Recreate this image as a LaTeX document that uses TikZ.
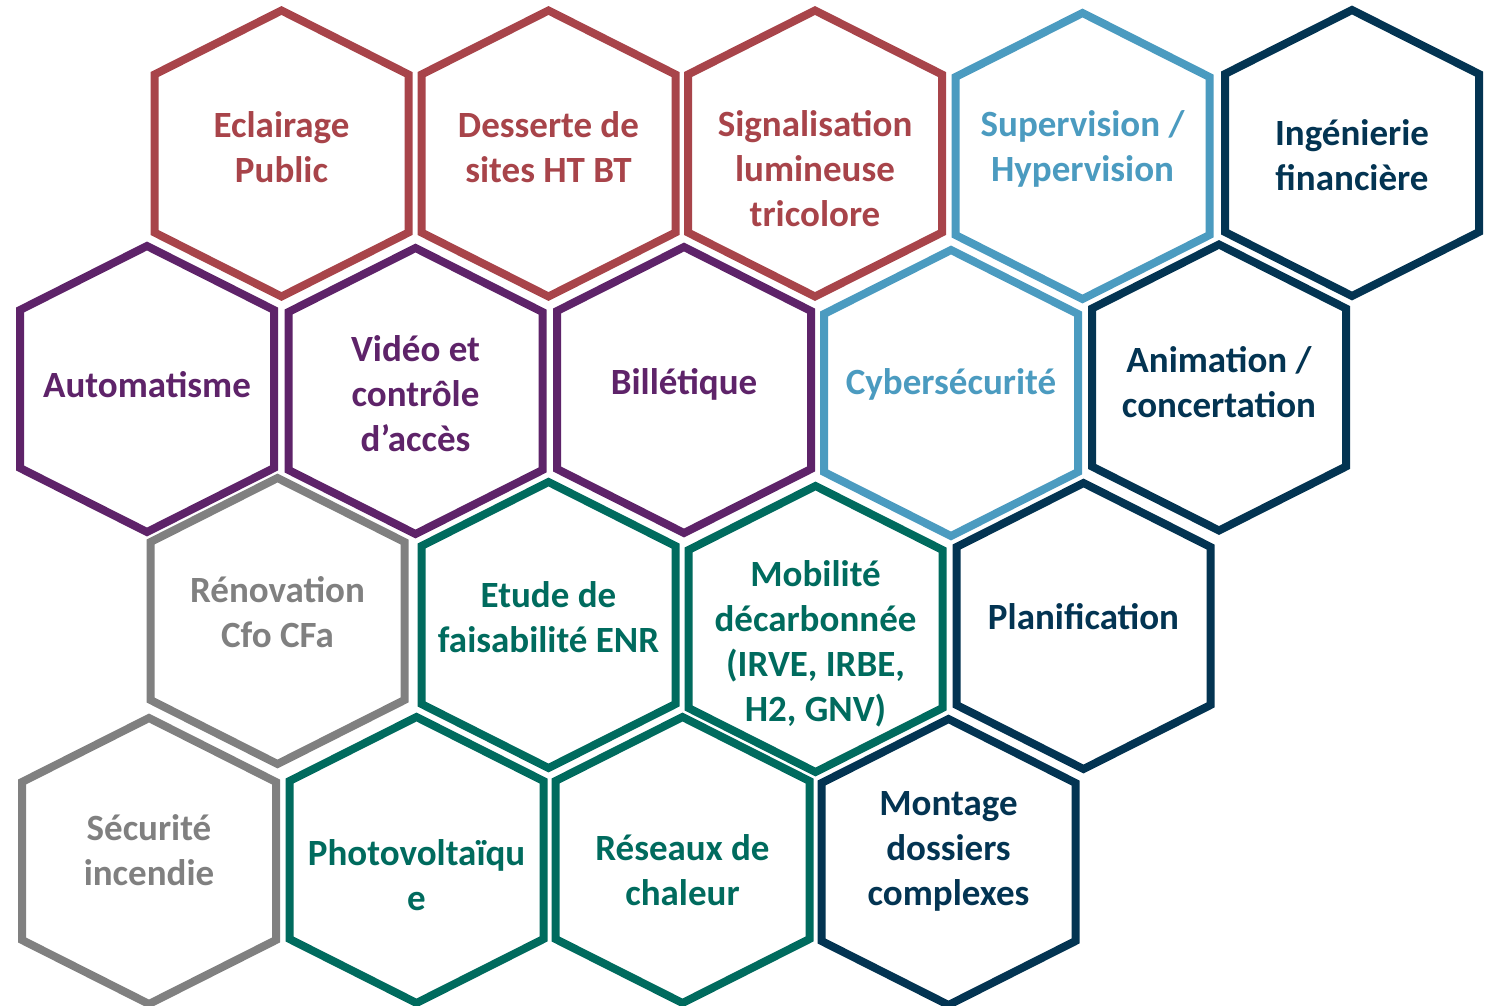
\documentclass[tikz,border=0pt]{standalone}
\usepackage{fontspec}
\setmainfont{Carlito}
\definecolor{rouge}{RGB}{168,68,74}
\definecolor{violet}{RGB}{94,35,105}
\definecolor{ciel}{RGB}{75,155,192}
\definecolor{marine}{RGB}{3,52,82}
\definecolor{sapin}{RGB}{0,107,94}
\definecolor{gris}{RGB}{128,128,128}
\tikzset{
  hexline/.style={line width=8pt, line join=miter, fill=white},
  celltext/.style={font=\fontsize{37}{45}\selectfont\bfseries, align=center, inner sep=0pt}
}
% one honeycomb cell: name, centre x, centre y, colour, text y, text
\newcommand\hexcell[6]{%
  \coordinate (#1) at (#2,#3);
  \draw[hexline, draw=#4] (#1) ++(0,-143) -- ++(127,64) -- ++(0,158)
    -- ++(-127,64) -- ++(-127,-64) -- ++(0,-158) -- cycle;
  \node[celltext, text=#4] (#1-t) at (#2,#5-2) {#6};
}
\begin{document}
\begin{tikzpicture}[x=1pt,y=-1pt]
\fill[white] (0,0) rectangle (1488,1005);
\useasboundingbox (0,0) rectangle (1488,1005);
% first row
\hexcell{eclairage}{281.5}{153.5}{rouge}{149}{Eclairage\\Public}
\hexcell{desserte}{548.5}{153.5}{rouge}{149}{Desserte de\\sites HT BT}
\hexcell{signal}{815}{153.5}{rouge}{171}{Signalisation\\lumineuse\\tricolore}
\hexcell{supervision}{1082.5}{156}{ciel}{151}{Supervision /\\Hypervision}
\hexcell{ingenierie}{1352}{153}{marine}{157}{Ingénierie\\financière}
% second row
\hexcell{automatisme}{147}{389}{violet}{387}{Automatisme}
\hexcell{video}{415.5}{391}{violet}{396}{Vidéo et\\contrôle\\d’accès}
\hexcell{billetique}{684}{390}{violet}{386}{Billétique}
\hexcell{cyber}{951}{393}{ciel}{386}{Cybersécurité}
\hexcell{animation}{1219}{387.5}{marine}{384}{Animation /\\concertation}
% third row
\hexcell{renovation}{277.5}{621}{gris}{614}{Rénovation\\Cfo CFa}
\hexcell{etude}{548.5}{625}{sapin}{619}{Etude de\\faisabilité ENR}
\hexcell{mobilite}{815.5}{629}{sapin}{646}{Mobilité\\décarbonnée\\(IRVE, IRBE,\\H2, GNV)}
\hexcell{planification}{1083.5}{626}{marine}{619}{Planification}
% fourth row
\hexcell{securite}{149}{861}{gris}{852}{Sécurité\\incendie}
\hexcell{photovolt}{416.5}{860}{sapin}{877}{Photovoltaïqu\\e}
\hexcell{reseaux}{682.5}{860}{sapin}{872}{Réseaux de\\chaleur}
\hexcell{montage}{948.5}{862}{marine}{853}{Montage\\dossiers\\complexes}
\end{tikzpicture}
\end{document}
